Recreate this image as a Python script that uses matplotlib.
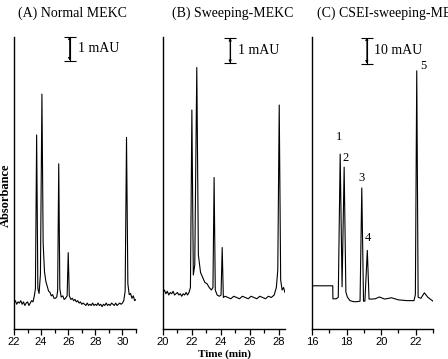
import matplotlib
matplotlib.use("Agg")
import matplotlib.pyplot as plt

SERIF = "Liberation Serif"
SANS = "Liberation Sans"

# (A) Normal MEKC, time (min) and absorbance (mAU)
time_a = [22.0, 22.1, 22.2, 22.3, 22.4, 22.5, 22.6, 22.7, 22.8, 22.9, 23.0,
          23.1, 23.2, 23.3, 23.4, 23.5, 23.58, 23.67, 23.76, 23.85, 23.95,
          24.06, 24.15, 24.25, 24.35, 24.45, 24.55, 24.65, 24.75, 24.85,
          24.95, 25.05, 25.15, 25.22, 25.3, 25.38, 25.48, 25.6, 25.7, 25.8,
          25.92, 26.0, 26.08, 26.2, 26.3, 26.4, 26.5, 26.6, 26.7, 26.8, 26.9,
          27.0, 27.1, 27.2, 27.3, 27.4, 27.5, 27.6, 27.7, 27.8, 27.9, 28.0,
          28.1, 28.2, 28.3, 28.4, 28.5, 28.6, 28.7, 28.8, 28.9, 29.0, 29.1,
          29.2, 29.3, 29.4, 29.5, 29.6, 29.7, 29.8, 29.9, 30.0, 30.1, 30.2,
          30.3, 30.4, 30.5, 30.6, 30.7, 30.8, 30.9, 31.0]
abs_a = [0.0, 0.1, -0.05, 0.05, 0.0, 0.1, -0.05, 0.05, -0.1, 0.0, 0.05,
         -0.1, 0.0, 0.1, 0.05, 0.3, 0.6, 7.0, 0.6, 0.4, 1.2,
         8.7, 2.5, 1.3, 0.9, 0.7, 0.5, 0.45, 0.3, 0.35,
         0.2, 0.2, 0.25, 0.5, 5.8, 0.6, 0.25, 0.3, 0.15, 0.2,
         0.3, 2.1, 0.3, 0.15, 0.2, 0.1, 0.15, 0.05, 0.1, 0.0, 0.05,
         -0.05, 0.0, -0.05, -0.1, 0.0, -0.1, -0.05, -0.1, 0.0, -0.1, -0.05,
         -0.1, 0.0, -0.1, -0.05, -0.15, -0.05, -0.1, 0.0, -0.1, -0.05, -0.1,
         0.0, -0.05, -0.1, 0.0, -0.1, -0.05, 0.0, -0.05, 0.0, 0.1, 0.5,
         6.9, 0.8, 0.35, 0.4, 0.2, 0.3, 0.1, 0.15]

# (B) Sweeping-MEKC
time_b = [20.0, 20.1, 20.2, 20.3, 20.4, 20.5, 20.6, 20.7, 20.8, 20.9, 21.0,
          21.1, 21.2, 21.3, 21.4, 21.5, 21.6, 21.7, 21.8, 21.9, 22.0, 22.1,
          22.2, 22.34, 22.45, 22.6, 22.75, 22.9, 23.05, 23.2, 23.35, 23.46,
          23.54, 23.62, 23.75, 23.9, 24.02, 24.1, 24.18, 24.3, 24.5, 24.7,
          24.9, 25.1, 25.3, 25.5, 25.7, 25.9, 26.1, 26.3, 26.5, 26.7, 26.9,
          27.1, 27.3, 27.5, 27.7, 27.85, 27.95, 28.05, 28.15, 28.25, 28.35,
          28.45]
abs_b = [0.1, 0.2, 0.05, 0.15, 0.0, 0.1, 0.05, 0.15, 0.0, 0.05, 0.1,
         0.0, 0.05, -0.05, 0.05, 0.0, 0.1, 0.0, 0.1, 0.3, 7.4, 0.8,
         1.2, 9.1, 1.6, 0.9, 0.7, 0.5, 0.45, 0.3, 0.2, 0.3,
         4.7, 0.2, 0.0, -0.05, 0.0, 1.9, -0.1, -0.05, -0.1, -0.15,
         -0.05, -0.1, -0.15, -0.05, -0.1, -0.15, -0.05, -0.1, -0.15, -0.05,
         -0.1, -0.15, -0.05, -0.1, 0.0, 0.3, 1.0, 7.6, 0.6, 0.2, 0.3,
         0.1]

# (C) CSEI-sweeping-MEKC
time_c = [16.0, 17.2, 17.21, 17.4, 17.52, 17.63, 17.74, 17.86, 17.96, 18.05,
          18.2, 18.4, 18.6, 18.78, 18.88, 18.98, 19.06, 19.2, 19.3, 19.45,
          19.65, 19.9, 20.2, 20.6, 21.0, 21.5, 21.9, 21.98, 22.06, 22.14,
          22.3, 22.5, 22.7, 23.0]
abs_c = [5.4, 5.4, 0.4, 0.4, 1.0, 56.0, 5.0, 51.0, 3.0, 1.0,
         -0.3, -0.7, -0.7, -0.5, 43.0, -0.5, -0.5, 19.0, 0.3, 0.3,
         0.4, 1.1, 0.3, 0.8, 0.0, -0.3, -0.3, 2.0, 88.0, 1.0,
         0.6, 2.7, 1.0, -0.5]

peak_labels = ["1", "2", "3", "4", "5"]
peak_label_t = [17.56, 17.96, 18.88, 19.23, 22.46]
peak_label_y = [62.7, 54.6, 46.9, 23.8, 90.0]

panels = [
    dict(t=time_a, y=abs_a, xlim=(22, 31.0), ylim=(-1.08, 11.08),
         ticks=[22, 24, 26, 28, 30], minor=[23, 25, 27, 29, 31],
         title="(A) Normal MEKC", title_x=18,
         bar_t=26.1, bar_lo=10.1, bar_hi=11.1, bar_text="1 mAU", text_t=26.7,
         left=14, width=122),
    dict(t=time_b, y=abs_b, xlim=(20, 28.45), ylim=(-1.36, 10.32),
         ticks=[20, 22, 24, 26, 28], minor=[21, 23, 25, 27],
         title="(B) Sweeping-MEKC", title_x=172,
         bar_t=24.65, bar_lo=9.28, bar_hi=10.28, bar_text="1 mAU", text_t=25.2,
         left=163, width=122),
    dict(t=time_c, y=abs_c, xlim=(16, 23.0), ylim=(-11.2, 101.0),
         ticks=[16, 18, 20, 22], minor=[17, 19, 21, 23],
         title="(C) CSEI-sweeping-MEKC", title_x=317,
         bar_t=19.17, bar_lo=90.8, bar_hi=100.8, bar_text="10 mAU", text_t=19.58,
         left=312, width=121),
]

W, H = 448, 359
fig = plt.figure(figsize=(W / 100, H / 100), dpi=100)

for p in panels:
    ax = fig.add_axes([p["left"] / W, 30 / H, p["width"] / W, 292 / H])
    ax.plot(p["t"], p["y"], color="black", lw=0.8)
    ax.set_xlim(*p["xlim"])
    ax.set_ylim(*p["ylim"])
    ax.set_xticks(p["ticks"])
    ax.set_xticks(p["minor"], minor=True)
    ax.set_yticks([])
    for side in ("top", "right"):
        ax.spines[side].set_visible(False)
    for side in ("left", "bottom"):
        ax.spines[side].set_linewidth(1.0)
    ax.tick_params(axis="x", which="major", length=4, width=0.9, pad=1.5,
                   labelsize=8)
    ax.tick_params(axis="x", which="minor", length=3, width=0.9)
    for lbl in ax.get_xticklabels():
        lbl.set_fontfamily(SANS)

    # scale bar
    mid = (p["bar_lo"] + p["bar_hi"]) / 2
    half = (p["bar_hi"] - p["bar_lo"]) / 2
    ax.errorbar([p["bar_t"]], [mid], yerr=[half], fmt="none", ecolor="black",
                elinewidth=0.8, capsize=4, capthick=0.8, clip_on=False)
    ax.annotate("", xy=(p["bar_t"], p["bar_hi"]), xytext=(p["bar_t"], p["bar_lo"]),
                arrowprops=dict(arrowstyle="<|-|>", lw=0.6, color="black",
                                mutation_scale=4, shrinkA=0, shrinkB=0),
                annotation_clip=False)
    ax.text(p["text_t"], mid, p["bar_text"], family=SERIF, fontsize=10,
            va="center", ha="left")

    fig.text(p["title_x"] / W, 1 - 13 / H, p["title"], family=SERIF,
             fontsize=10, va="center", ha="left")

    if p["title"].startswith("(C)"):
        for lab, lt, ly in zip(peak_labels, peak_label_t, peak_label_y):
            ax.text(lt, ly, lab, family=SERIF, fontsize=9, ha="center",
                    va="center")

fig.text(224 / W, 0.3 / H, "Time (min)", family=SERIF, fontsize=8,
         fontweight="bold", ha="center", va="bottom")
fig.text(6 / W, 1 - 195 / H, "Absorbance", family=SERIF, fontsize=9,
         fontweight="bold", ha="center", va="center", rotation=90)

fig.savefig("out.png", dpi=100)
